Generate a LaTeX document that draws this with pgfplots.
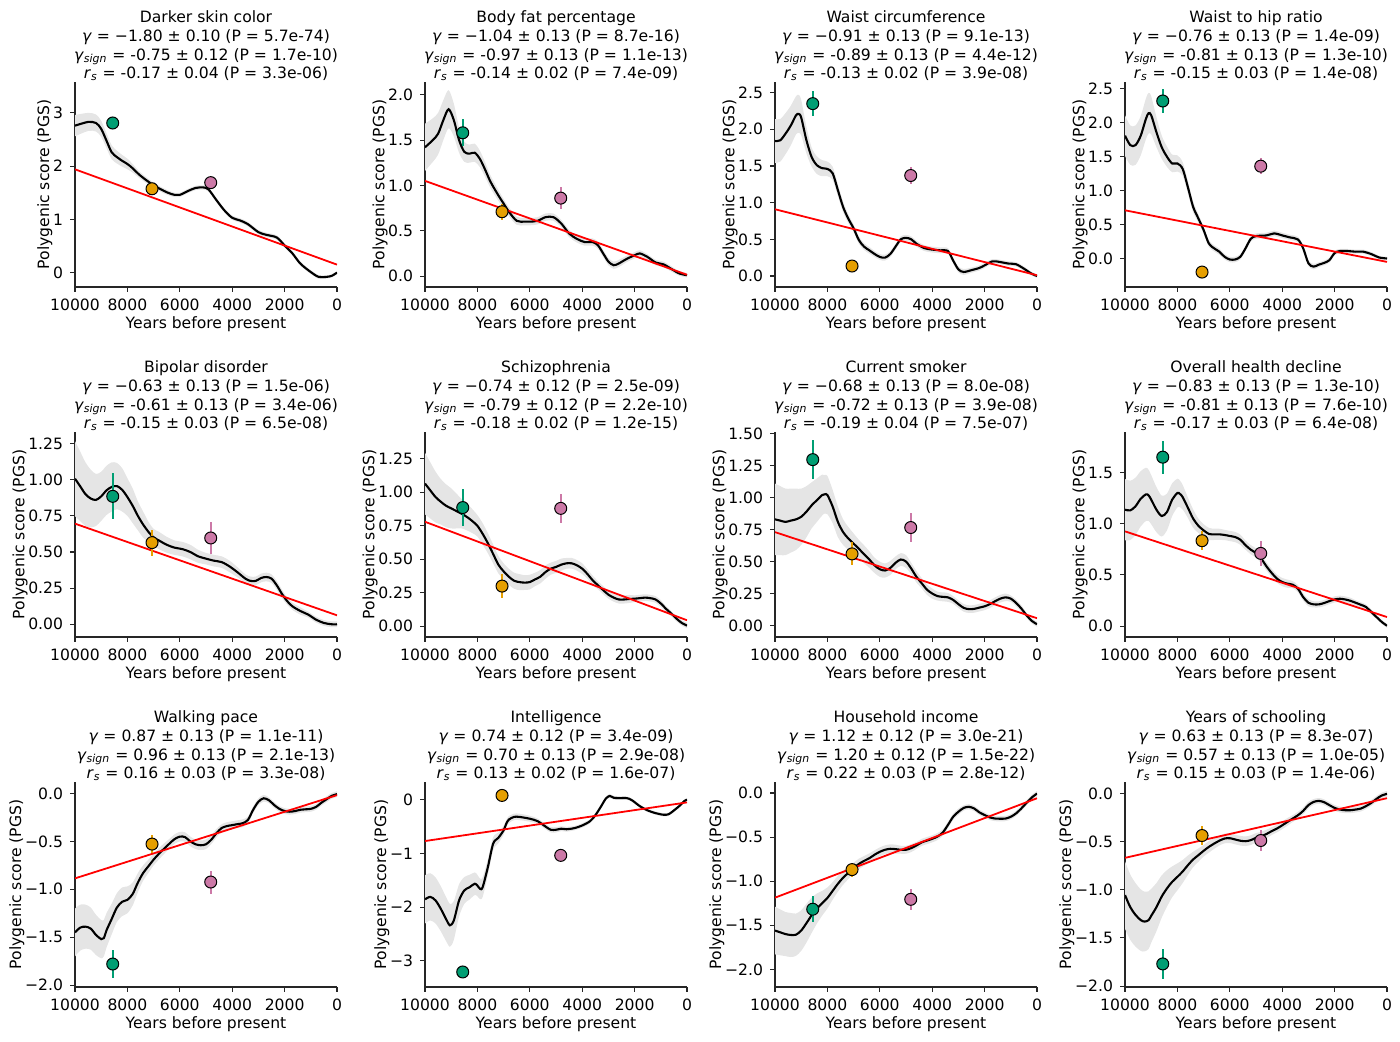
\documentclass[border=0pt]{standalone}
\usepackage{fontspec}
\setmainfont{DejaVu Sans}
\usepackage{pgfplots}
\pgfplotsset{compat=1.18}
\usepackage{pgfplotstable}
\usepgfplotslibrary{fillbetween}
\definecolor{cg}{HTML}{009E73}
\definecolor{co}{HTML}{E69F00}
\definecolor{cp}{HTML}{CC79A7}
\pgfplotsset{
 panel/.style={
  scale only axis, width=131pt, height=102.5pt, anchor=south west,
  xmin=0, xmax=10000, x dir=reverse, scaled x ticks=false, scaled y ticks=false,
  axis x line=bottom, axis y line=left,
  axis line style={-, line width=0.55pt, black!85},
  tick align=outside, major tick length=2.45pt,
  tick style={black!85, line width=0.55pt},
  xtick={0,2000,4000,6000,8000,10000},
  xticklabels={0,2000,4000,6000,8000,10000},
  xlabel={Years before present}, ylabel={Polygenic score (PGS)},
  tick label style={font=\fontsize{7.8}{8.8}\selectfont},
  label style={font=\fontsize{7.8}{8.8}\selectfont},
  xlabel style={yshift=4pt},
  ylabel style={yshift=-6.5pt},
  every axis title/.style={at={(0.5,1)}, anchor=south, align=center, yshift=-3pt,
    font=\fontsize{7.8}{9.35}\selectfont},
 },
}
\newcommand{\ttl}[4]{#1\\\textit{γ} = #2\\\textit{γ}\textsubscript{\textit{sign}} = #3\\\textit{r}\textsubscript{\textit{s}} = #4}
\newcommand{\bandcurve}[1]{%
 \addplot[name path=up, draw=none, smooth] table[x=x, y expr=\thisrow{y}+\thisrow{w}] {#1};
 \addplot[name path=lo, draw=none, smooth] table[x=x, y expr=\thisrow{y}-\thisrow{w}] {#1};
 \addplot[black!10] fill between[of=up and lo];
 \addplot[black, line width=1.05pt, smooth] table[x=x, y=y] {#1};
}
\newcommand{\redline}[2]{\addplot[red, line width=0.9pt] coordinates {(10000,#1) (0,#2)};}
\newcommand{\onept}[4]{%
 \addplot[only marks, mark=*, mark size=3pt, mark options={fill=#4, draw=black, line width=0.5pt},
  error bars/.cd, y dir=both, y explicit, error mark=none, error bar style={#4, line width=1.05pt}]
  coordinates {(#1,#2) +- (0,#3)};}
\newcommand{\pts}[6]{\onept{8560}{#1}{#2}{cg}\onept{7060}{#3}{#4}{co}\onept{4820}{#5}{#6}{cp}}

\pgfplotstableread{
x y w
10000 2.76 0.20
9500 2.83 0.17
9200 2.81 0.16
9000 2.70 0.15
8800 2.48 0.14
8600 2.26 0.13
8400 2.17 0.12
8200 2.10 0.11
8000 2.04 0.10
7800 1.96 0.08
7500 1.82 0.06
7000 1.64 0.05
6500 1.51 0.045
6200 1.46 0.04
6000 1.46 0.04
5700 1.53 0.04
5400 1.59 0.04
5100 1.60 0.04
4900 1.56 0.04
4600 1.36 0.04
4300 1.17 0.04
4000 1.03 0.04
3700 0.98 0.04
3400 0.91 0.04
3000 0.76 0.04
2700 0.71 0.04
2300 0.66 0.04
2000 0.51 0.04
1700 0.36 0.04
1400 0.17 0.04
1000 0.01 0.035
700 -0.08 0.035
400 -0.08 0.03
200 -0.06 0.03
0 0.00 0.03
}\tA
\pgfplotstableread{
x y w
10000 1.42 0.26
9700 1.50 0.24
9500 1.57 0.23
9300 1.72 0.22
9100 1.84 0.21
8900 1.72 0.18
8700 1.50 0.14
8500 1.37 0.11
8300 1.35 0.10
8100 1.36 0.10
7900 1.29 0.09
7700 1.17 0.08
7500 1.04 0.07
7200 0.89 0.06
7000 0.80 0.05
6800 0.71 0.05
6500 0.61 0.045
6200 0.60 0.04
6000 0.60 0.04
5700 0.61 0.04
5400 0.65 0.04
5100 0.65 0.04
4800 0.58 0.04
4500 0.47 0.04
4200 0.41 0.04
3900 0.375 0.04
3600 0.375 0.04
3400 0.34 0.04
3200 0.25 0.04
3000 0.16 0.04
2800 0.12 0.04
2600 0.14 0.04
2300 0.19 0.035
2000 0.23 0.035
1800 0.25 0.035
1500 0.21 0.03
1200 0.15 0.03
900 0.13 0.03
600 0.08 0.03
300 0.03 0.025
0 0.01 0.025
}\tB
\pgfplotstableread{
x y w
10000 1.84 0.30
9800 1.85 0.29
9600 1.94 0.28
9400 2.05 0.27
9200 2.19 0.26
9100 2.21 0.26
9000 2.16 0.24
8800 1.85 0.18
8600 1.62 0.13
8400 1.51 0.12
8200 1.47 0.11
8000 1.46 0.10
7800 1.40 0.09
7600 1.17 0.08
7400 0.94 0.07
7200 0.78 0.06
7000 0.65 0.05
6800 0.49 0.05
6600 0.40 0.045
6400 0.35 0.045
6200 0.30 0.04
6000 0.26 0.04
5800 0.25 0.04
5600 0.30 0.04
5400 0.40 0.04
5200 0.50 0.04
5000 0.52 0.04
4800 0.50 0.04
4600 0.44 0.04
4300 0.38 0.04
4000 0.36 0.04
3700 0.35 0.04
3400 0.34 0.04
3200 0.21 0.04
3000 0.09 0.04
2800 0.055 0.04
2500 0.08 0.035
2200 0.11 0.035
2000 0.145 0.035
1700 0.20 0.03
1400 0.19 0.03
1100 0.17 0.03
800 0.16 0.03
500 0.10 0.03
200 0.03 0.025
0 0.00 0.025
}\tC
\pgfplotstableread{
x y w
10000 1.81 0.30
9800 1.67 0.29
9600 1.67 0.29
9400 1.81 0.29
9200 2.06 0.30
9100 2.14 0.30
9000 2.11 0.28
8800 1.86 0.22
8600 1.64 0.17
8400 1.50 0.15
8200 1.40 0.13
8000 1.40 0.12
7800 1.32 0.10
7600 1.05 0.09
7400 0.76 0.08
7200 0.59 0.06
7000 0.42 0.05
6800 0.22 0.05
6600 0.15 0.045
6400 0.10 0.045
6200 0.025 0.04
6000 -0.015 0.04
5800 -0.015 0.04
5600 0.025 0.04
5400 0.15 0.04
5200 0.29 0.04
5000 0.33 0.04
4600 0.34 0.04
4300 0.37 0.04
4000 0.34 0.04
3700 0.31 0.04
3400 0.28 0.04
3200 0.15 0.04
3000 -0.07 0.04
2800 -0.12 0.04
2600 -0.09 0.035
2400 -0.065 0.035
2200 -0.025 0.035
2000 0.08 0.035
1800 0.11 0.03
1500 0.11 0.03
1200 0.10 0.03
900 0.10 0.03
600 0.065 0.03
300 0.015 0.025
0 0.00 0.025
}\tD
\pgfplotstableread{
x y w
10000 1.007 0.26
9800 0.954 0.24
9600 0.90 0.22
9400 0.87 0.20
9200 0.86 0.18
9000 0.885 0.17
8800 0.926 0.17
8600 0.95 0.17
8400 0.956 0.16
8200 0.93 0.15
8000 0.88 0.13
7800 0.82 0.12
7600 0.75 0.10
7400 0.69 0.09
7200 0.64 0.07
7000 0.60 0.06
6800 0.58 0.06
6500 0.55 0.055
6200 0.53 0.05
5900 0.52 0.05
5600 0.50 0.05
5300 0.47 0.045
5000 0.454 0.04
4700 0.44 0.04
4400 0.43 0.04
4100 0.40 0.04
3800 0.36 0.035
3500 0.316 0.03
3300 0.30 0.03
3100 0.30 0.03
2900 0.32 0.03
2700 0.327 0.03
2500 0.316 0.03
2300 0.27 0.03
2100 0.21 0.03
1900 0.16 0.025
1700 0.124 0.025
1400 0.092 0.025
1100 0.067 0.02
800 0.032 0.02
500 0.009 0.02
200 0.00 0.02
0 0.00 0.02
}\tE
\pgfplotstableread{
x y w
10000 1.065 0.23
9800 1.015 0.21
9600 0.965 0.19
9400 0.93 0.17
9200 0.90 0.16
9000 0.88 0.15
8800 0.86 0.13
8600 0.84 0.11
8400 0.816 0.10
8200 0.786 0.09
8000 0.75 0.08
7800 0.69 0.08
7600 0.62 0.075
7400 0.54 0.07
7200 0.46 0.065
7000 0.41 0.06
6800 0.37 0.06
6600 0.34 0.06
6400 0.33 0.06
6200 0.326 0.055
6000 0.33 0.055
5800 0.35 0.05
5600 0.37 0.05
5400 0.405 0.05
5200 0.43 0.045
5000 0.443 0.045
4800 0.46 0.045
4600 0.47 0.04
4400 0.47 0.04
4200 0.455 0.04
4000 0.43 0.04
3800 0.39 0.035
3600 0.343 0.035
3400 0.306 0.03
3200 0.27 0.03
3000 0.236 0.03
2800 0.214 0.03
2600 0.20 0.03
2400 0.20 0.03
2200 0.204 0.03
2000 0.206 0.025
1800 0.21 0.025
1600 0.214 0.025
1400 0.21 0.025
1200 0.20 0.025
1000 0.17 0.025
800 0.13 0.02
600 0.095 0.02
400 0.057 0.02
200 0.025 0.02
0 0.005 0.02
}\tF
\pgfplotstableread{
x y w
10000 0.83 0.28
9800 0.82 0.27
9600 0.81 0.26
9400 0.82 0.25
9200 0.83 0.24
9000 0.85 0.22
8800 0.89 0.20
8600 0.94 0.18
8400 0.98 0.17
8200 1.02 0.16
8100 1.026 0.15
8000 1.02 0.15
7800 0.93 0.13
7600 0.81 0.12
7400 0.73 0.10
7200 0.68 0.09
7000 0.64 0.08
6800 0.60 0.07
6600 0.557 0.07
6400 0.516 0.065
6200 0.47 0.06
6000 0.44 0.06
5800 0.43 0.055
5600 0.45 0.055
5400 0.49 0.05
5200 0.516 0.05
5000 0.50 0.05
4800 0.445 0.045
4600 0.38 0.045
4400 0.33 0.04
4200 0.28 0.04
4000 0.25 0.04
3800 0.23 0.035
3600 0.224 0.035
3400 0.22 0.035
3200 0.20 0.03
3000 0.167 0.03
2800 0.138 0.03
2600 0.128 0.03
2400 0.13 0.03
2200 0.14 0.03
2000 0.15 0.03
1800 0.167 0.03
1600 0.19 0.03
1400 0.21 0.03
1200 0.22 0.03
1000 0.21 0.025
800 0.177 0.025
600 0.133 0.025
400 0.08 0.02
200 0.036 0.02
0 0.01 0.02
}\tG
\pgfplotstableread{
x y w
10000 1.137 0.30
9800 1.13 0.29
9600 1.17 0.28
9400 1.244 0.27
9200 1.287 0.26
9100 1.277 0.25
9000 1.235 0.24
8800 1.137 0.22
8600 1.075 0.20
8400 1.114 0.18
8200 1.235 0.16
8000 1.30 0.14
7900 1.29 0.13
7800 1.26 0.12
7600 1.156 0.10
7400 1.05 0.09
7200 0.98 0.07
7000 0.935 0.06
6800 0.90 0.06
6600 0.896 0.055
6400 0.896 0.055
6200 0.89 0.05
6000 0.88 0.05
5800 0.87 0.05
5600 0.844 0.05
5400 0.79 0.045
5200 0.746 0.045
5000 0.713 0.045
4800 0.658 0.045
4600 0.583 0.04
4400 0.518 0.04
4200 0.463 0.04
4000 0.43 0.04
3800 0.414 0.04
3600 0.404 0.035
3400 0.365 0.035
3200 0.283 0.035
3000 0.228 0.035
2800 0.212 0.03
2600 0.212 0.03
2400 0.225 0.03
2200 0.244 0.03
2000 0.26 0.03
1800 0.267 0.03
1600 0.26 0.03
1400 0.247 0.03
1200 0.228 0.025
1000 0.208 0.025
800 0.186 0.025
600 0.137 0.025
400 0.088 0.02
200 0.04 0.02
0 0.003 0.02
}\tH
\pgfplotstableread{
x y w
10000 -1.45 0.25
9800 -1.40 0.24
9600 -1.39 0.23
9400 -1.41 0.22
9200 -1.476 0.21
9000 -1.52 0.20
8900 -1.51 0.19
8800 -1.43 0.18
8600 -1.31 0.16
8400 -1.19 0.15
8200 -1.13 0.15
8000 -1.11 0.14
7800 -1.05 0.12
7600 -0.93 0.10
7400 -0.83 0.08
7200 -0.76 0.07
7000 -0.69 0.06
6800 -0.63 0.06
6600 -0.576 0.055
6400 -0.524 0.05
6200 -0.476 0.05
6000 -0.45 0.05
5800 -0.455 0.05
5600 -0.50 0.05
5400 -0.53 0.05
5200 -0.54 0.05
5000 -0.53 0.05
4800 -0.483 0.045
4600 -0.414 0.045
4400 -0.36 0.04
4200 -0.34 0.04
4000 -0.33 0.04
3800 -0.32 0.04
3600 -0.31 0.04
3400 -0.276 0.035
3200 -0.17 0.035
3000 -0.086 0.035
2800 -0.05 0.035
2600 -0.07 0.03
2400 -0.12 0.03
2200 -0.16 0.03
2000 -0.183 0.03
1800 -0.19 0.03
1600 -0.183 0.03
1400 -0.17 0.03
1200 -0.165 0.03
1000 -0.16 0.03
800 -0.14 0.03
600 -0.097 0.03
400 -0.06 0.03
200 -0.024 0.03
0 -0.007 0.03
}\tI
\pgfplotstableread{
x y w
10000 -1.857 0.45
9800 -1.81 0.44
9600 -1.876 0.43
9400 -2.03 0.42
9200 -2.22 0.41
9050 -2.34 0.40
8900 -2.25 0.36
8700 -1.876 0.30
8500 -1.69 0.25
8300 -1.63 0.23
8100 -1.565 0.21
8000 -1.60 0.20
7900 -1.66 0.19
7800 -1.63 0.18
7600 -1.255 0.15
7400 -0.82 0.12
7200 -0.71 0.10
7000 -0.57 0.08
6900 -0.45 0.07
6800 -0.37 0.065
6600 -0.32 0.06
6400 -0.32 0.06
6000 -0.354 0.055
5700 -0.40 0.05
5400 -0.50 0.05
5200 -0.56 0.05
5000 -0.56 0.05
4800 -0.54 0.045
4600 -0.55 0.045
4300 -0.53 0.04
4000 -0.48 0.04
3700 -0.40 0.04
3500 -0.29 0.04
3300 -0.14 0.035
3100 0.02 0.035
2950 0.07 0.035
2800 0.037 0.035
2600 0.03 0.035
2300 0.03 0.03
2100 -0.01 0.03
1800 -0.12 0.03
1500 -0.20 0.03
1200 -0.25 0.03
900 -0.28 0.03
700 -0.27 0.03
500 -0.20 0.03
300 -0.12 0.03
100 -0.025 0.03
0 0.00 0.03
}\tJ
\pgfplotstableread{
x y w
10000 -1.56 0.27
9800 -1.58 0.26
9600 -1.60 0.25
9400 -1.61 0.25
9200 -1.607 0.24
9000 -1.56 0.23
8800 -1.476 0.22
8600 -1.386 0.20
8400 -1.31 0.17
8200 -1.25 0.14
8000 -1.19 0.12
7800 -1.11 0.10
7600 -1.03 0.09
7400 -0.96 0.08
7200 -0.906 0.07
7000 -0.85 0.06
6800 -0.805 0.06
6600 -0.77 0.055
6400 -0.74 0.055
6200 -0.70 0.05
6000 -0.667 0.05
5800 -0.644 0.05
5600 -0.633 0.05
5400 -0.637 0.05
5200 -0.644 0.045
5000 -0.644 0.045
4800 -0.625 0.045
4600 -0.595 0.04
4400 -0.56 0.04
4200 -0.54 0.04
4000 -0.52 0.04
3800 -0.494 0.04
3600 -0.45 0.035
3400 -0.363 0.035
3200 -0.27 0.035
3000 -0.213 0.035
2800 -0.17 0.03
2600 -0.157 0.03
2400 -0.176 0.03
2200 -0.22 0.03
2000 -0.25 0.03
1800 -0.277 0.03
1600 -0.29 0.03
1400 -0.292 0.03
1200 -0.29 0.03
1000 -0.27 0.03
800 -0.232 0.03
600 -0.176 0.03
400 -0.112 0.03
200 -0.052 0.03
0 -0.007 0.03
}\tK
\pgfplotstableread{
x y w
10000 -1.055 0.35
9800 -1.18 0.34
9600 -1.26 0.33
9400 -1.315 0.32
9250 -1.33 0.31
9100 -1.315 0.30
9000 -1.27 0.28
8800 -1.18 0.25
8600 -1.07 0.22
8400 -0.986 0.19
8200 -0.917 0.16
8000 -0.865 0.14
7800 -0.81 0.12
7600 -0.744 0.10
7400 -0.685 0.08
7200 -0.64 0.07
7000 -0.595 0.06
6800 -0.554 0.06
6600 -0.52 0.055
6400 -0.49 0.05
6200 -0.467 0.05
6000 -0.464 0.05
5800 -0.477 0.05
5600 -0.49 0.05
5400 -0.495 0.05
5200 -0.484 0.05
5000 -0.46 0.05
4800 -0.443 0.045
4600 -0.42 0.045
4400 -0.39 0.04
4200 -0.363 0.04
4000 -0.33 0.04
3800 -0.294 0.04
3600 -0.26 0.035
3400 -0.225 0.035
3200 -0.18 0.035
3000 -0.12 0.035
2800 -0.087 0.03
2600 -0.076 0.03
2400 -0.09 0.03
2200 -0.12 0.03
2000 -0.149 0.03
1800 -0.166 0.03
1600 -0.173 0.03
1400 -0.173 0.03
1200 -0.166 0.03
1000 -0.156 0.03
800 -0.13 0.03
600 -0.097 0.03
400 -0.055 0.03
200 -0.02 0.03
0 -0.003 0.03
}\tL

\begin{document}
\begin{tikzpicture}

% Row 1
\begin{axis}[panel, at={(37.5pt,377pt)}, ymin=-0.27, ymax=3.58,
 ytick={0,1,2,3}, yticklabels={0,1,2,3},
 title={\ttl{Darker skin color}{−1.80 ± 0.10 (P = 5.7e-74)}{-0.75 ± 0.12 (P = 1.7e-10)}{-0.17 ± 0.04 (P = 3.3e-06)}}]
\bandcurve{\tA}
\redline{1.94}{0.15}
\pts{2.81}{0.07}{1.575}{0.04}{1.69}{0.04}
\end{axis}

\begin{axis}[panel, at={(212.5pt,377pt)}, ymin=-0.12, ymax=2.14,
 ytick={0,0.5,1,1.5,2}, yticklabels={0.0,0.5,1.0,1.5,2.0},
 title={\ttl{Body fat percentage}{−1.04 ± 0.13 (P = 8.7e-16)}{-0.97 ± 0.13 (P = 1.1e-13)}{-0.14 ± 0.02 (P = 7.4e-09)}}]
\bandcurve{\tB}
\redline{1.05}{0.015}
\pts{1.58}{0.15}{0.71}{0.09}{0.86}{0.12}
\end{axis}

\begin{axis}[panel, at={(387.5pt,377pt)}, ymin=-0.15, ymax=2.645,
 ytick={0,0.5,1,1.5,2,2.5}, yticklabels={0.0,0.5,1.0,1.5,2.0,2.5},
 title={\ttl{Waist circumference}{−0.91 ± 0.13 (P = 9.1e-13)}{-0.89 ± 0.13 (P = 4.4e-12)}{-0.13 ± 0.02 (P = 3.9e-08)}}]
\bandcurve{\tC}
\redline{0.91}{0.01}
\pts{2.35}{0.17}{0.136}{0.08}{1.37}{0.12}
\end{axis}

\begin{axis}[panel, at={(562.5pt,377pt)}, ymin=-0.42, ymax=2.6,
 ytick={0,0.5,1,1.5,2,2.5}, yticklabels={0.0,0.5,1.0,1.5,2.0,2.5},
 title={\ttl{Waist to hip ratio}{−0.76 ± 0.13 (P = 1.4e-09)}{-0.81 ± 0.13 (P = 1.3e-10)}{-0.15 ± 0.03 (P = 1.4e-08)}}]
\bandcurve{\tD}
\redline{0.71}{-0.05}
\pts{2.32}{0.17}{-0.20}{0.06}{1.36}{0.12}
\end{axis}

% Row 2
\begin{axis}[panel, at={(37.5pt,202pt)}, ymin=-0.088, ymax=1.33,
 ytick={0,0.25,0.5,0.75,1,1.25}, yticklabels={0.00,0.25,0.50,0.75,1.00,1.25},
 title={\ttl{Bipolar disorder}{−0.63 ± 0.13 (P = 1.5e-06)}{-0.61 ± 0.13 (P = 3.4e-06)}{-0.15 ± 0.03 (P = 6.5e-08)}}]
\bandcurve{\tE}
\redline{0.696}{0.062}
\pts{0.885}{0.16}{0.565}{0.09}{0.597}{0.11}
\end{axis}

\begin{axis}[panel, at={(212.5pt,202pt)}, ymin=-0.08, ymax=1.45,
 ytick={0,0.25,0.5,0.75,1,1.25}, yticklabels={0.00,0.25,0.50,0.75,1.00,1.25},
 title={\ttl{Schizophrenia}{−0.74 ± 0.12 (P = 2.5e-09)}{-0.79 ± 0.12 (P = 2.2e-10)}{-0.18 ± 0.02 (P = 1.2e-15)}}]
\bandcurve{\tF}
\redline{0.78}{0.045}
\pts{0.886}{0.135}{0.30}{0.09}{0.88}{0.11}
\end{axis}

\begin{axis}[panel, at={(387.5pt,202pt)}, ymin=-0.09, ymax=1.513,
 ytick={0,0.25,0.5,0.75,1,1.25,1.5}, yticklabels={0.00,0.25,0.50,0.75,1.00,1.25,1.50},
 title={\ttl{Current smoker}{−0.68 ± 0.13 (P = 8.0e-08)}{-0.72 ± 0.13 (P = 3.9e-08)}{-0.19 ± 0.04 (P = 7.5e-07)}}]
\bandcurve{\tG}
\redline{0.73}{0.057}
\pts{1.297}{0.15}{0.56}{0.09}{0.766}{0.115}
\end{axis}

\begin{axis}[panel, at={(562.5pt,202pt)}, ymin=-0.107, ymax=1.896,
 ytick={0,0.5,1,1.5}, yticklabels={0.0,0.5,1.0,1.5},
 title={\ttl{Overall health decline}{−0.83 ± 0.13 (P = 1.3e-10)}{-0.81 ± 0.13 (P = 7.6e-10)}{-0.17 ± 0.03 (P = 6.4e-08)}}]
\bandcurve{\tH}
\redline{0.925}{0.088}
\pts{1.65}{0.16}{0.834}{0.09}{0.71}{0.125}
\end{axis}

% Row 3
\begin{axis}[panel, at={(37.5pt,27pt)}, ymin=-2.02, ymax=0.12,
 ytick={-2,-1.5,-1,-0.5,0}, yticklabels={−2.0,−1.5,−1.0,−0.5,0.0},
 title={\ttl{Walking pace}{0.87 ± 0.13 (P = 1.1e-11)}{0.96 ± 0.13 (P = 2.1e-13)}{0.16 ± 0.03 (P = 3.3e-08)}}]
\bandcurve{\tI}
\redline{-0.886}{-0.017}
\pts{-1.78}{0.15}{-0.528}{0.095}{-0.924}{0.12}
\end{axis}

\begin{axis}[panel, at={(212.5pt,27pt)}, ymin=-3.49, ymax=0.33,
 ytick={-3,-2,-1,0}, yticklabels={−3,−2,−1,0},
 title={\ttl{Intelligence}{0.74 ± 0.12 (P = 3.4e-09)}{0.70 ± 0.13 (P = 2.9e-08)}{0.13 ± 0.02 (P = 1.6e-07)}}]
\bandcurve{\tJ}
\redline{-0.77}{-0.05}
\pts{-3.21}{0.12}{0.08}{0.04}{-1.037}{0.05}
\end{axis}

\begin{axis}[panel, at={(387.5pt,27pt)}, ymin=-2.2, ymax=0.124,
 ytick={-2,-1.5,-1,-0.5,0}, yticklabels={−2.0,−1.5,−1.0,−0.5,0.0},
 title={\ttl{Household income}{1.12 ± 0.12 (P = 3.0e-21)}{1.20 ± 0.12 (P = 1.5e-22)}{0.22 ± 0.03 (P = 2.8e-12)}}]
\bandcurve{\tK}
\redline{-1.187}{-0.06}
\pts{-1.318}{0.15}{-0.869}{0.08}{-1.206}{0.12}
\end{axis}

\begin{axis}[panel, at={(562.5pt,27pt)}, ymin=-2.01, ymax=0.12,
 ytick={-2,-1.5,-1,-0.5,0}, yticklabels={−2.0,−1.5,−1.0,−0.5,0.0},
 title={\ttl{Years of schooling}{0.63 ± 0.13 (P = 8.3e-07)}{0.57 ± 0.13 (P = 1.0e-05)}{0.15 ± 0.03 (P = 1.4e-06)}}]
\bandcurve{\tL}
\redline{-0.668}{-0.048}
\pts{-1.77}{0.16}{-0.436}{0.10}{-0.488}{0.11}
\end{axis}
\pgfresetboundingbox
\path (0,0) rectangle (700pt,520.5pt);
\end{tikzpicture}
\end{document}
